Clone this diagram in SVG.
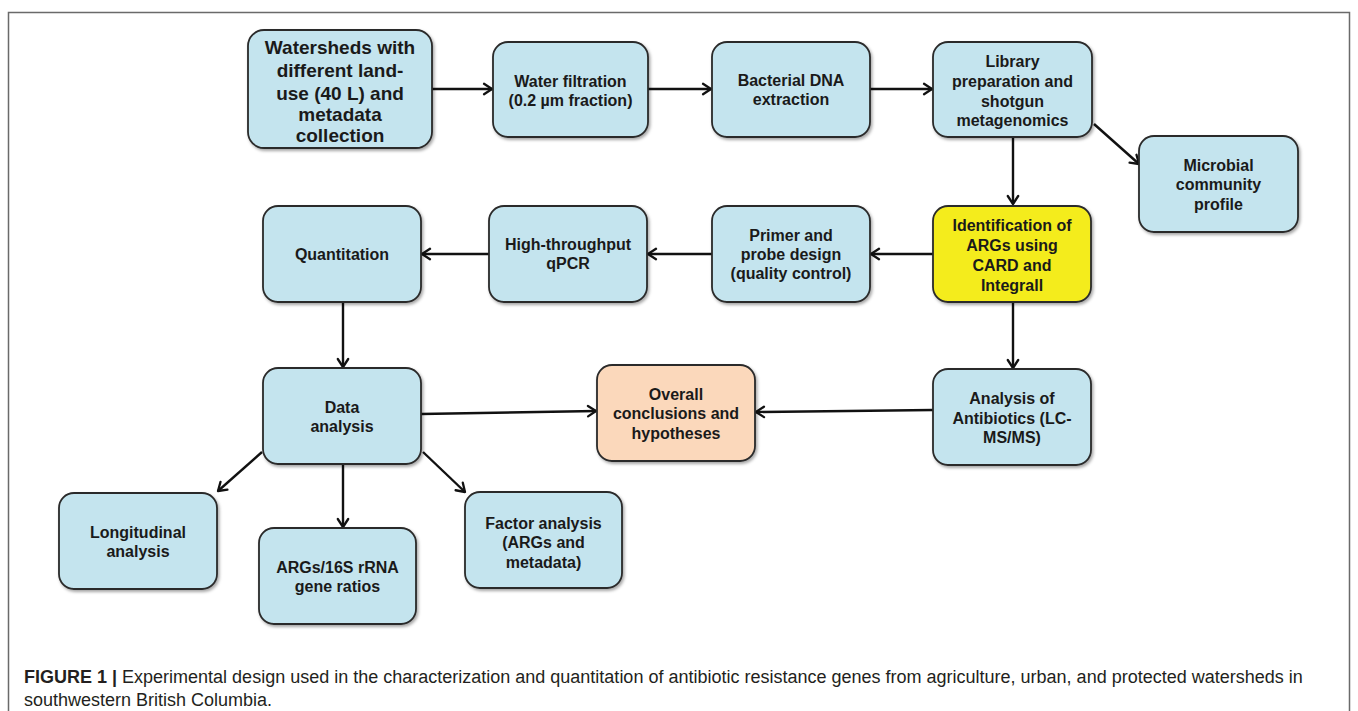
<svg xmlns="http://www.w3.org/2000/svg" width="1358" height="711" viewBox="0 0 1358 711">
<defs>
<marker id="arr" viewBox="0 0 14 14" refX="12" refY="7" markerWidth="14" markerHeight="14" markerUnits="userSpaceOnUse" orient="auto">
<path d="M4,1.8 L12,7 L4,12.2" fill="none" stroke="#111" stroke-width="2.3" stroke-linecap="round" stroke-linejoin="round"/>
</marker>
<filter id="sh" x="-10%" y="-10%" width="125%" height="125%">
<feDropShadow dx="1.5" dy="2" stdDeviation="1.5" flood-color="#000" flood-opacity="0.35"/>
</filter>
</defs>
<style>
.b{fill:#c4e4ee;stroke:#2b2b2b;stroke-width:1.8;filter:url(#sh)}
.y{fill:#f4ec1e;stroke:#2b2b2b;stroke-width:1.8;filter:url(#sh)}
.p{fill:#fbd8bb;stroke:#2b2b2b;stroke-width:1.8;filter:url(#sh)}
.t{font-family:"Liberation Sans",Arial,sans-serif;font-weight:bold;font-size:16px;fill:#1a1a1a;text-anchor:middle}
.tl{font-size:19px}
.c line{stroke:#111;stroke-width:2.4;fill:none;marker-end:url(#arr)}
.cap{font-family:"Liberation Sans",Arial,sans-serif;font-size:18px;fill:#231f20}
</style>
<rect width="1358" height="711" fill="#fff"/>
<path d="M8.5,720 V12.5 H1349.5 V720" fill="none" stroke="#6a6a6a" stroke-width="1.5"/>

<g id="connectors" class="c">
<line x1="432" y1="89" x2="492" y2="89"/>
<line x1="648" y1="89" x2="711" y2="89"/>
<line x1="870" y1="89" x2="932" y2="89"/>
<line x1="1094" y1="124" x2="1139" y2="164"/>
<line x1="1013" y1="138" x2="1013" y2="204"/>
<line x1="933" y1="254" x2="871" y2="254"/>
<line x1="712" y1="254" x2="648" y2="254"/>
<line x1="489" y1="254" x2="422" y2="254"/>
<line x1="343" y1="302" x2="343" y2="367"/>
<line x1="1013" y1="302" x2="1013" y2="368"/>
<line x1="933" y1="410" x2="756" y2="412"/>
<line x1="421" y1="414" x2="596" y2="411"/>
<line x1="262" y1="452" x2="218" y2="491"/>
<line x1="343" y1="464" x2="343" y2="527"/>
<line x1="423" y1="452" x2="465" y2="492"/>
</g>

<g id="n1"><rect class="b" x="248" y="30" width="184" height="118" rx="16"/>
<text class="t tl" x="340" y="54">Watersheds with</text>
<text class="t tl" x="340" y="77">different land-</text>
<text class="t tl" x="340" y="100">use (40 L) and</text>
<text class="t tl" x="340" y="121">metadata</text>
<text class="t tl" x="340" y="142">collection</text></g>

<g id="n2"><rect class="b" x="493" y="42" width="155" height="95" rx="15"/>
<text class="t" x="570.5" y="87">Water filtration</text>
<text class="t" x="570.5" y="106">(0.2 µm fraction)</text></g>

<g id="n3"><rect class="b" x="712" y="42" width="158" height="95" rx="15"/>
<text class="t" x="791" y="86">Bacterial DNA</text>
<text class="t" x="791" y="105">extraction</text></g>

<g id="n4"><rect class="b" x="933" y="42" width="159" height="95" rx="15"/>
<text class="t" x="1012.5" y="67">Library</text>
<text class="t" x="1012.5" y="87">preparation and</text>
<text class="t" x="1012.5" y="107">shotgun</text>
<text class="t" x="1012.5" y="126">metagenomics</text></g>

<g id="n5"><rect class="b" x="1139" y="136" width="159" height="96" rx="15"/>
<text class="t" x="1218.5" y="171">Microbial</text>
<text class="t" x="1218.5" y="190">community</text>
<text class="t" x="1218.5" y="210">profile</text></g>

<g id="n6"><rect class="y" x="933" y="206" width="158" height="96" rx="15"/>
<text class="t" x="1012" y="231">Identification of</text>
<text class="t" x="1012" y="251">ARGs using</text>
<text class="t" x="1012" y="271">CARD and</text>
<text class="t" x="1012" y="291">Integrall</text></g>

<g id="n7"><rect class="b" x="712" y="206" width="158" height="96" rx="15"/>
<text class="t" x="791" y="241">Primer and</text>
<text class="t" x="791" y="260">probe design</text>
<text class="t" x="791" y="279">(quality control)</text></g>

<g id="n8"><rect class="b" x="489" y="206" width="158" height="96" rx="15"/>
<text class="t" x="568" y="250">High-throughput</text>
<text class="t" x="568" y="269">qPCR</text></g>

<g id="n9"><rect class="b" x="263" y="206" width="158" height="96" rx="15"/>
<text class="t" x="342" y="260">Quantitation</text></g>

<g id="n10"><rect class="b" x="263" y="368" width="158" height="96" rx="15"/>
<text class="t" x="342" y="413">Data</text>
<text class="t" x="342" y="432">analysis</text></g>

<g id="n11"><rect class="p" x="597" y="365" width="158" height="96" rx="15"/>
<text class="t" x="676" y="400">Overall</text>
<text class="t" x="676" y="419">conclusions and</text>
<text class="t" x="676" y="439">hypotheses</text></g>

<g id="n12"><rect class="b" x="933" y="369" width="158" height="96" rx="15"/>
<text class="t" x="1012" y="404">Analysis of</text>
<text class="t" x="1012" y="424">Antibiotics (LC-</text>
<text class="t" x="1012" y="443">MS/MS)</text></g>

<g id="n13"><rect class="b" x="59" y="493" width="158" height="96" rx="15"/>
<text class="t" x="138" y="538">Longitudinal</text>
<text class="t" x="138" y="557">analysis</text></g>

<g id="n14"><rect class="b" x="259" y="528" width="157" height="96" rx="15"/>
<text class="t" x="337.5" y="573">ARGs/16S rRNA</text>
<text class="t" x="337.5" y="592">gene ratios</text></g>

<g id="n15"><rect class="b" x="465" y="492" width="157" height="96" rx="15"/>
<text class="t" x="543.5" y="529">Factor analysis</text>
<text class="t" x="543.5" y="548">(ARGs and</text>
<text class="t" x="543.5" y="568">metadata)</text></g>

<g id="caption">
<text class="cap" x="24" y="683"><tspan font-weight="bold">FIGURE 1 |</tspan> Experimental design used in the characterization and quantitation of antibiotic resistance genes from agriculture, urban, and protected watersheds in</text>
<text class="cap" x="24" y="706">southwestern British Columbia.</text>
</g>
</svg>
